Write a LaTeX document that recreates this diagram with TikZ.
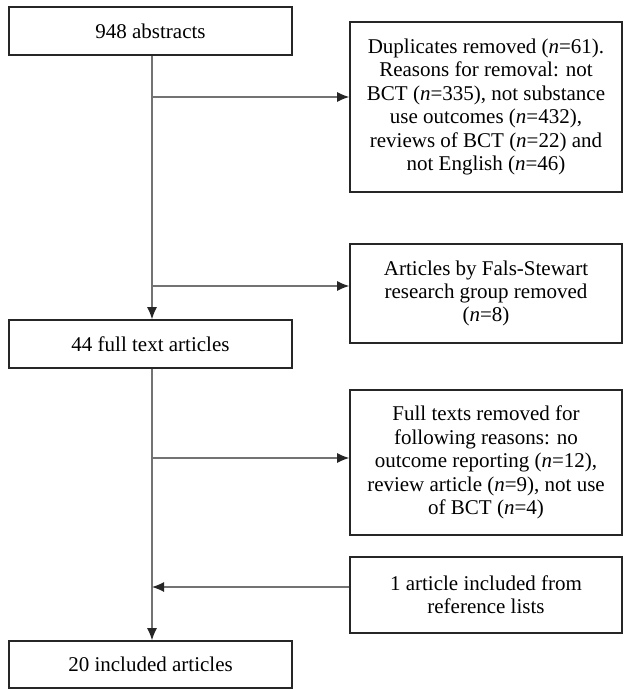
\documentclass[tikz,border=0pt]{standalone}
\usepackage{fontspec}
\setmainfont{Liberation Serif}
\usetikzlibrary{arrows.meta}
\begin{document}
\begin{tikzpicture}[x=0.5pt, y=-0.5pt, >={Latex[length=6pt,width=5pt,color=black!85]},
        box/.style={rectangle, draw=black!85, line width=0.8pt, minimum width=141.5pt, minimum height=24pt, align=center, inner sep=0pt, font=\fontsize{10.5}{11.7}\selectfont},
        sidebox/.style={box, minimum width=136pt},
        arrow/.style={->, draw=black!55, line width=0.6pt}
    ]
        \useasboundingbox (0,0) rectangle (624,689);

        % Main flow
        \node (abs) [box] at (150.5,31) {948 abstracts};
        \node (full) [box] at (150.5,344) {44 full text articles};
        \node (incl) [box, minimum height=23.5pt] at (150.5,664.5) {20 included articles};

        % Removed / added
        \node (dup) [sidebox, minimum height=85pt] at (486,107) {Duplicates removed (\textit{n}=61).\\ Reasons for removal: not\\ BCT (\textit{n}=335), not substance\\ use outcomes (\textit{n}=432),\\ reviews of BCT (\textit{n}=22) and\\ not English (\textit{n}=46)};
        \node (fals) [sidebox, minimum height=49.5pt] at (486,293.5) {Articles by Fals-Stewart\\ research group removed\\ (\textit{n}=8)};
        \node (texts) [sidebox, minimum height=72.5pt] at (486,462.5) {Full texts removed for\\ following reasons: no\\ outcome reporting (\textit{n}=12),\\ review article (\textit{n}=9), not use\\ of BCT (\textit{n}=4)};
        \node (ref) [sidebox, minimum height=38pt] at (486,595) {1 article included from\\ reference lists};

        % Branch points
        \coordinate (b1) at (152,97);
        \coordinate (b2) at (152,286);
        \coordinate (b3) at (152,458);
        \coordinate (b4) at (152,587);

        % Vertical flow
        \draw[arrow] (abs.south -| b1) -- (full.north -| b1);
        \draw[arrow] (full.south -| b1) -- (incl.north -| b1);

        % Side arrows
        \draw[arrow] (b1) -- (b1 -| dup.west);
        \draw[arrow] (b2) -- (b2 -| fals.west);
        \draw[arrow] (b3) -- (b3 -| texts.west);
        \draw[arrow] (b4 -| ref.west) -- (b4);

    \end{tikzpicture}
\end{document}
